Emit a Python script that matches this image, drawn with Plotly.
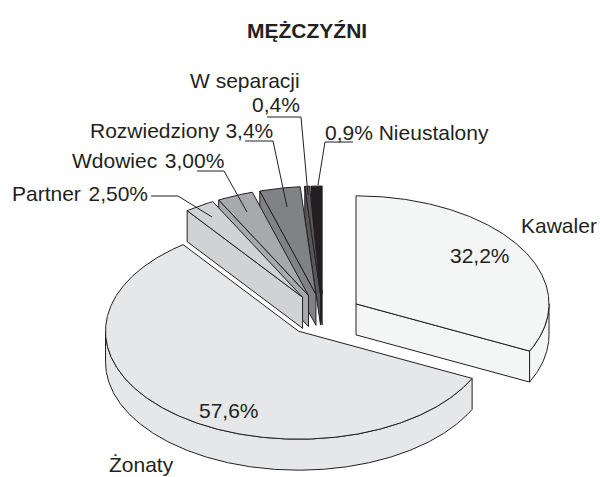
import numpy as np
import plotly.graph_objects as go

# data
categories = ["Kawaler", "Żonaty", "Partner", "Wdowiec", "Rozwiedziony", "W separacji", "Nieustalony"]
shares = [32.2, 57.6, 2.5, 3.0, 3.4, 0.4, 0.9]
colors = ["#f4f6f5", "#e6e7e8", "#d1d2d4", "#a7a9ac", "#808285", "#58595b", "#231f20"]

# projection of the tilted, exploded pie onto the page
CX, CY = 323.2, 315.0
RX, RY = 193.0, 108.0
PULL_X, PULL_Y = 38.7, 21.0
DEPTH = 31.0
INK = "#231f20"
FONT = "Liberation Sans, Arial, sans-serif"
FS = 21


def rim(cx, cy, a0, a1, dz=0.0):
    t = np.radians(np.linspace(a0, a1, max(2, int(abs(a1 - a0) * 2) + 2)))
    return cx + RX * np.sin(t), cy - RY * np.cos(t) + dz


def poly(fig, xs, ys, color, name):
    fig.add_trace(go.Scatter(
        x=np.append(xs, xs[0]), y=np.append(ys, ys[0]), mode="lines", fill="toself",
        fillcolor=color, line=dict(color=INK, width=1), hoverinfo="skip",
        showlegend=False, name=name))


fig = go.Figure()

edges = np.concatenate([[0], np.cumsum(shares)]) / sum(shares) * 360.0
slices = []
for i, (cat, col) in enumerate(zip(categories, colors)):
    a0, a1 = edges[i], edges[i + 1]
    mid = np.radians((a0 + a1) / 2)
    slices.append((cat, col, a0, a1, CX + PULL_X * np.sin(mid), CY - PULL_Y * np.cos(mid)))

# back-to-front painting order
order = [0, 1, 6, 5, 4, 3, 2]
for i in order:
    cat, col, a0, a1, cx, cy = slices[i]
    # radial cut walls that face the viewer
    for ang, visible in ((a0, 180 < a0 < 360), (a1, 0 < a1 < 180)):
        if visible:
            ex, ey = rim(cx, cy, ang, ang)
            poly(fig, np.array([cx, ex[0], ex[0], cx]),
                 np.array([cy, ey[0], ey[0] + DEPTH, cy + DEPTH]), col, cat)
    # outer curved wall on the near half of the ellipse
    w0, w1 = max(a0, 90.0), min(a1, 270.0)
    if w1 > w0:
        tx, ty = rim(cx, cy, w0, w1)
        bx, by = rim(cx, cy, w1, w0, DEPTH)
        poly(fig, np.concatenate([tx, bx]), np.concatenate([ty, by]), col, cat)
    # top face
    tx, ty = rim(cx, cy, a0, a1)
    poly(fig, np.concatenate([[cx], tx]), np.concatenate([[cy], ty]), col, cat)

# leader lines
leaders = [
    ([267, 301, 308], [117, 117, 195]),
    ([353, 325, 318], [142, 142, 185]),
    ([245, 273, 287], [141, 141, 207]),
    ([197, 224, 247], [171, 171, 212]),
    ([151, 178, 212], [196, 196, 217]),
]
for lx, ly in leaders:
    fig.add_trace(go.Scatter(x=lx, y=ly, mode="lines", line=dict(color=INK, width=1),
                             hoverinfo="skip", showlegend=False))

labels = [
    ("W separacji", 302, 80, "right"),
    ("0,4%", 302, 104, "right"),
    ("Rozwiedziony 3,4%", 275, 130, "right"),
    ("Wdowiec \u200a3,00%", 226, 160, "right"),
    ("Partner \u200a2,50%", 150, 193, "right"),
    ("0,9% Nieustalony", 323, 132, "left"),
    ("Kawaler", 519, 225, "left"),
    ("32,2%", 448, 255, "left"),
    ("57,6%", 197, 410, "left"),
    ("Żonaty", 107, 464, "left"),
]
for text, x, y, anchor in labels:
    fig.add_annotation(x=x, y=y, text=text, showarrow=False, xanchor=anchor, yanchor="middle",
                       font=dict(family=FONT, size=FS, color=INK))
fig.add_annotation(x=307, y=30, text="<b>MĘŻCZYŹNI</b>", showarrow=False, xanchor="center",
                   yanchor="middle", font=dict(family=FONT, size=FS, color=INK))

fig.update_layout(
    width=600, height=477, margin=dict(l=0, r=0, t=0, b=0),
    paper_bgcolor="white", plot_bgcolor="white", showlegend=False,
    xaxis=dict(range=[0, 600], visible=False, fixedrange=True),
    yaxis=dict(range=[477, 0], visible=False, fixedrange=True),
)
fig.write_html("out.html", config={"displayModeBar": False},
               post_script="document.body.style.margin='0';document.body.style.overflow='hidden';")
